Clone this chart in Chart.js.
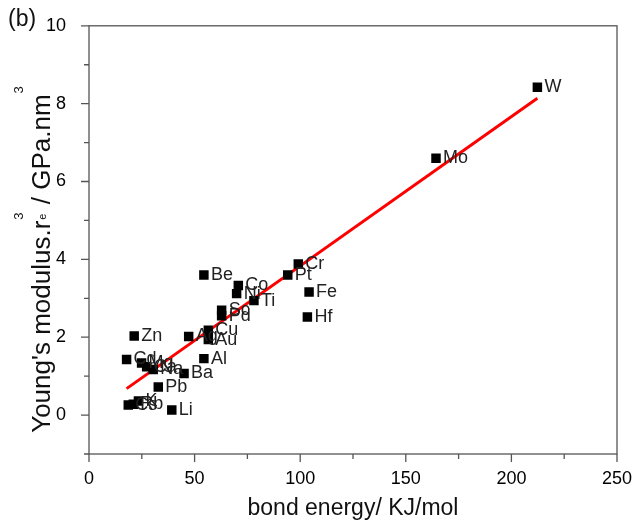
<!DOCTYPE html>
<html>
<head>
<meta charset="utf-8">
<script src="https://cdn.jsdelivr.net/npm/chart.js@4.4.1/dist/chart.umd.min.js"></script>
<style>
  html, body { margin: 0; padding: 0; background: #fff; }
  canvas { display: block; }
</style>
</head>
<body>
<canvas id="modulusChart" width="635" height="527"></canvas>
<script>
// element symbols with bond energy (kJ/mol) and E * re^3 (GPa.nm^3)
const elements = ['W', 'Mo', 'Cr', 'Pt', 'Fe', 'Hf', 'Be', 'Co', 'Ni', 'Ti', 'Sc', 'Pd', 'Cu', 'Au', 'Ag', 'Al',
  'Zn', 'Cd', 'Mg', 'Ca', 'Na', 'Ba', 'Pb', 'Li', 'Cs', 'Rb', 'K'];
const bondEnergy = [212.3, 164.3, 99.1, 94.1, 104.2, 103.4, 54.4, 70.7, 69.9, 78.1, 62.8, 62.8, 56.5, 56.5, 47.2, 54.4,
  21.4, 17.8, 24.9, 27.3, 30.4, 45.0, 32.8, 39.2, 18.6, 21.0, 23.4];
const youngsModulus = [8.42, 6.60, 3.88, 3.60, 3.16, 2.52, 3.60, 3.33, 3.12, 2.94, 2.69, 2.55, 2.18, 1.94, 2.02, 1.45,
  2.03, 1.43, 1.34, 1.24, 1.17, 1.07, 0.72, 0.13, 0.26, 0.28, 0.36];

// linear fit end points
const fitEnergy = [17.8, 212.3];
const fitModulus = [0.68, 8.14];

const xTickValues = [0, 50, 100, 150, 200, 250];
const xMinorValues = [25, 75, 125, 175, 225];
const yTickValues = [0, 2, 4, 6, 8, 10];
const yMinorValues = [-1, 1, 3, 5, 7, 9];

const FONT = '"Liberation Sans", Arial, sans-serif';
Chart.defaults.font.family = FONT;

// box around the plot with outward tick marks
const frameTicks = {
  id: 'frameTicks',
  afterDraw(chart) {
    const { ctx, chartArea: a, scales } = chart;
    ctx.save();
    ctx.strokeStyle = '#555';
    ctx.lineWidth = 1.3;
    ctx.strokeRect(a.left, a.top, a.right - a.left, a.bottom - a.top);
    ctx.beginPath();
    xTickValues.forEach((v) => {
      const px = scales.x.getPixelForValue(v);
      ctx.moveTo(px, a.bottom);
      ctx.lineTo(px, a.bottom + 8);
    });
    xMinorValues.forEach((v) => {
      const px = scales.x.getPixelForValue(v);
      ctx.moveTo(px, a.bottom);
      ctx.lineTo(px, a.bottom + 5);
    });
    yTickValues.forEach((v) => {
      const py = scales.y.getPixelForValue(v);
      ctx.moveTo(a.left, py);
      ctx.lineTo(a.left - 8, py);
    });
    yMinorValues.forEach((v) => {
      const py = scales.y.getPixelForValue(v);
      ctx.moveTo(a.left, py);
      ctx.lineTo(a.left - 5, py);
    });
    ctx.stroke();
    ctx.restore();
  },
};

// symbol next to every marker
const pointLabels = {
  id: 'pointLabels',
  afterDatasetsDraw(chart) {
    const { ctx } = chart;
    const meta = chart.getDatasetMeta(0);
    ctx.save();
    ctx.font = `18px ${FONT}`;
    ctx.fillStyle = '#222';
    ctx.textBaseline = 'middle';
    ctx.textAlign = 'left';
    meta.data.forEach((pt, i) => {
      ctx.fillText(elements[i], pt.x + 7, pt.y);
    });
    ctx.restore();
  },
};

// axis titles and panel letter
const titles = {
  id: 'titles',
  afterDraw(chart) {
    const { ctx, chartArea: a } = chart;
    ctx.save();
    ctx.fillStyle = '#111';

    ctx.font = `23px ${FONT}`;
    ctx.textBaseline = 'middle';
    ctx.fillText('(b)', 8, 20);

    ctx.textAlign = 'center';
    ctx.textBaseline = 'alphabetic';
    ctx.fillText('bond energy/ KJ/mol', (a.left + a.right) / 2, 515);

    // y title with r_e^3 and nm^3
    const big = `26px ${FONT}`;
    const small = `13px ${FONT}`;
    const tiny = `11px ${FONT}`;
    const head = "Young's modulus.r";
    const tail = ' / GPa.nm';
    ctx.textAlign = 'left';
    ctx.font = big;
    const wHead = ctx.measureText(head).width;
    const wTail = ctx.measureText(tail).width;
    ctx.font = small;
    const wSup = ctx.measureText('3').width;
    const total = wHead + wSup + 2 + wTail + wSup;

    ctx.translate(50, 260);
    ctx.rotate(-Math.PI / 2);
    let x = -total / 2;
    ctx.font = big;
    ctx.fillText(head, x, 0);
    x += wHead;
    ctx.font = small;
    ctx.fillText('3', x + 1, -27);
    ctx.font = tiny;
    ctx.fillText('e', x + 1, -4);
    x += wSup + 2;
    ctx.font = big;
    ctx.fillText(tail, x, 0);
    x += wTail;
    ctx.font = small;
    ctx.fillText('3', x + 1, -27);
    ctx.restore();
  },
};

function createModulusChart(elementId) {
  const ctx = document.getElementById(elementId);
  if (!ctx) return null;

  return new Chart(ctx, {
    type: 'scatter',
    data: {
      datasets: [
        {
          label: 'data',
          data: bondEnergy.map((e, i) => ({ x: e, y: youngsModulus[i] })),
          pointStyle: 'rect',
          pointRadius: 6.7,
          borderWidth: 0,
          backgroundColor: '#000',
        },
        {
          type: 'line',
          label: 'fit',
          data: fitEnergy.map((e, i) => ({ x: e, y: fitModulus[i] })),
          borderColor: '#ff0000',
          borderWidth: 3,
          pointRadius: 0,
          fill: false,
        },
      ],
    },
    options: {
      responsive: false,
      animation: false,
      layout: { padding: { left: 0, top: 25, right: 18, bottom: 0 } },
      plugins: {
        legend: { display: false },
        tooltip: { enabled: false },
      },
      scales: {
        x: {
          type: 'linear',
          min: 0,
          max: 250,
          grid: { display: false },
          border: { display: false },
          afterBuildTicks: (scale) => {
            scale.ticks = xTickValues.map((v) => ({ value: v }));
          },
          afterFit: (scale) => {
            scale.height = 73;
            // end labels may overhang the plot; the layout padding covers them
            scale.paddingLeft = 0;
            scale.paddingRight = 0;
          },
          ticks: {
            color: '#000',
            padding: 6,
            font: { size: 18 },
            maxRotation: 0,
          },
        },
        y: {
          type: 'linear',
          min: -1,
          max: 10,
          grid: { display: false },
          border: { display: false },
          afterBuildTicks: (scale) => {
            scale.ticks = yTickValues.map((v) => ({ value: v }));
          },
          afterFit: (scale) => {
            scale.width = 89;
          },
          ticks: {
            color: '#000',
            padding: 15,
            font: { size: 18 },
          },
        },
      },
    },
    plugins: [frameTicks, pointLabels, titles],
  });
}

createModulusChart('modulusChart');
</script>
</body>
</html>
